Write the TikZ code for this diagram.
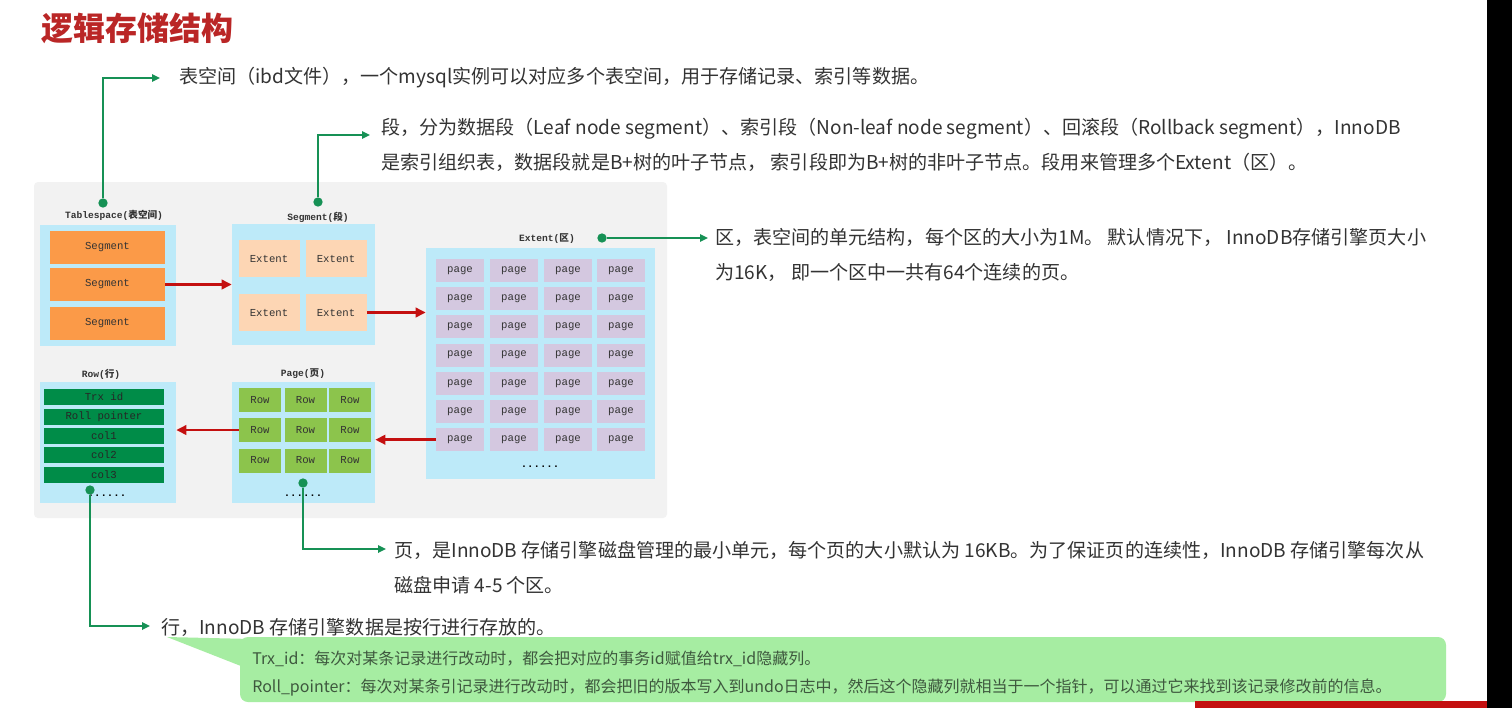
\documentclass[tikz,border=0pt]{standalone}
\usepackage{fontspec}
\setmainfont{Noto Sans CJK SC}
\setmonofont{Liberation Mono}
\usetikzlibrary{arrows.meta}

\definecolor{titlered}{RGB}{186,38,38}
\definecolor{panelgray}{RGB}{242,242,242}
\definecolor{groupblue}{RGB}{189,234,249}
\definecolor{segorange}{RGB}{251,154,72}
\definecolor{extpeach}{RGB}{253,214,180}
\definecolor{pagelilac}{RGB}{212,200,224}
\definecolor{rowgreen}{RGB}{140,196,76}
\definecolor{colgreen}{RGB}{0,140,72}
\definecolor{linkgreen}{RGB}{22,145,85}
\definecolor{flowred}{RGB}{196,16,16}
\definecolor{notegreen}{RGB}{166,237,162}
\definecolor{bodygray}{RGB}{51,51,51}
\definecolor{notetext}{RGB}{62,88,62}

\newcommand\grouptitle[2]{#1(\rmfamily #2\ttfamily)}

\begin{document}
\begin{tikzpicture}[x=0.75pt,y=-0.75pt,
                    group/.style={fill=groupblue,inner sep=0pt,
                                  minimum width=102pt,minimum height=90.75pt},
                    grouplabel/.style={font=\ttfamily\bfseries\fontsize{7.2}{8}\selectfont,
                                       text=bodygray,inner sep=0pt},
                    cell/.style={font=\ttfamily\fontsize{8}{9}\selectfont,
                                 text=bodygray,inner sep=0pt},
                    segbox/.style={cell,fill=segorange,minimum width=86.25pt,minimum height=24.75pt},
                    extbox/.style={cell,fill=extpeach,minimum width=45.75pt,minimum height=27.75pt},
                    pagebox/.style={cell,fill=pagelilac,minimum width=36pt,minimum height=17.25pt},
                    rowbox/.style={cell,fill=rowgreen,minimum width=31.5pt,minimum height=18pt},
                    colbox/.style={cell,text=black!85,fill=colgreen,minimum width=90pt,minimum height=12pt},
                    dots/.style={font=\ttfamily\bfseries\fontsize{8}{9}\selectfont,inner sep=0pt},
                    dot/.style={circle,fill=linkgreen,inner sep=0pt,minimum size=7pt},
                    link/.style={draw=linkgreen,line width=1.5pt,-{Triangle[length=6pt,width=5.5pt]}},
                    flow/.style={draw=flowred,line width=2.2pt,-{Triangle[length=7.5pt,width=7pt]}},
                    note/.style={font=\fontsize{14.3}{26.25}\selectfont,text=bodygray,
                                 align=left,inner sep=0pt,anchor=west}]
  \fill[white] (0,0) rectangle (1512,708);
  \useasboundingbox (0,0) rectangle (1512,708);

  \node[font=\bfseries\fontsize{24}{28}\selectfont,text=titlered,anchor=west,inner sep=0pt]
    (title) at (41,28) {逻辑存储结构};

  \fill[panelgray,rounded corners=3pt] (34,182) rectangle (667,518);

  % tablespace
  \node[group] (tsgrp) at (108,285) {};
  \node[grouplabel] (tslabel) at (114,215) {\grouptitle{Tablespace}{表空间}};
  \node[segbox] (seg1) at (107.5,247.5) {Segment};
  \node[segbox] (seg2) at (107.5,284.5) {Segment};
  \node[segbox] (seg3) at (107.5,323.5) {Segment};

  % segment
  \node[group,minimum width=107.25pt] (seggrp) at (303.5,284.5) {};
  \node[grouplabel] (seglabel) at (318,217) {\grouptitle{Segment}{段}};
  \node[extbox] (ext1) at (269,258.5) {Extent};
  \node[extbox] (ext2) at (336,258.5) {Extent};
  \node[extbox] (ext3) at (269,312.5) {Extent};
  \node[extbox] (ext4) at (336,312.5) {Extent};

  % extent
  \node[group,minimum width=171.75pt,minimum height=173.25pt] (extgrp) at (540.5,363.5) {};
  \node[grouplabel] (extlabel) at (547,239) {\grouptitle{Extent}{区}};
  \foreach \c/\x in {1/460,2/514,3/568,4/621}
    \foreach \r in {1,...,7}
      \node[pagebox] (pg\r\c) at (\x,{270.5+28.2*(\r-1)}) {page};
  \node[dots] (extmore) at (540,467) {......};

  % page
  \node[group,minimum width=107.25pt] (pagegrp) at (303.5,442.5) {};
  \node[grouplabel] (pagelabel) at (303,374) {\grouptitle{Page}{页}};
  \foreach \c/\x in {1/260,2/305.5,3/350}
    \foreach \r/\y in {1/400,2/430,3/460.5}
      \node[rowbox] (rw\r\c) at (\x,\y) {Row};
  \node[dots] (pagemore) at (303,496) {......};

  % row
  \node[group,minimum height=90.75pt] (rowgrp) at (108,442.5) {};
  \node[grouplabel] (rowlabel) at (101,374) {\grouptitle{Row}{行}};
  \node[colbox] (trx) at (104,397) {Trx id};
  \node[colbox] (roll) at (104,416.5) {Roll pointer};
  \node[colbox] (col1) at (104,436) {col1};
  \node[colbox] (col2) at (104,455) {col2};
  \node[colbox] (col3) at (104,475) {col3};
  \node[dots] (rowmore) at (107,496) {......};

  \draw[flow] (seg2.east) -- (seggrp.west);
  \draw[flow] (ext4.east) -- (ext4.east -| extgrp.west);
  \draw[flow] (pg71.west) -- (pg71.west -| pagegrp.east);
  \draw[flow] (rw21.west) -- (rw21.west -| rowgrp.east);

  % notes
  \node[dot] (tsdot) at (103,203) {};
  \node[dot] (segdot) at (318,202) {};
  \node[dot] (extdot) at (602,238) {};
  \node[dot] (pagedot) at (303,483) {};
  \node[dot] (rowdot) at (90,490) {};

  \coordinate (tsend) at (160,78);
  \coordinate (segend) at (370,135);
  \coordinate (extend) at (708,238);
  \coordinate (pageend) at (386,549);
  \coordinate (rowend) at (150,626);

  \node[note] (tsnote) at (179,78)
    {表空间（ibd文件），一个mysql实例可以对应多个表空间，用于存储记录、索引等数据。};
  \node[note] (segnote) at (381,144.5)
    {段，分为数据段（Leaf node segment）、索引段（Non-leaf node segment）、回滚段（Rollback segment），InnoDB\\
     是索引组织表，数据段就是B+树的叶子节点， 索引段即为B+树的非叶子节点。段用来管理多个Extent（区）。};
  \node[note] (extnote) at (715,254.5)
    {区，表空间的单元结构，每个区的大小为1M。 默认情况下， InnoDB存储引擎页大小\\
     为16K， 即一个区中一共有64个连续的页。};
  \node[note] (pagenote) at (394,567.5)
    {页，是InnoDB 存储引擎磁盘管理的最小单元，每个页的大小默认为 16KB。为了保证页的连续性，InnoDB 存储引擎每次从\\
     磁盘申请 4-5 个区。};
  \node[note] (rownote) at (161,627) {行，InnoDB 存储引擎数据是按行进行存放的。};

  \draw[link] (tsdot) |- (tsend);
  \draw[link] (segdot) |- (segend);
  \draw[link] (extdot) -- (extend);
  \draw[link] (pagedot) |- (pageend);
  \draw[link] (rowdot) |- (rowend);

  % callout
  \fill[notegreen] (167,637) -- (252,639) -- (246,668) -- cycle;
  \node[fill=notegreen,rounded corners=6pt,minimum width=904.5pt,minimum height=48.75pt,
        inner sep=0pt] (callout) at (843,669.5) {};
  \node[anchor=west,inner sep=0pt,align=left,text=notetext,
        font=\fontsize{12}{21}\selectfont] (callouttext) at (252,674)
    {Trx\_id：每次对某条记录进行改动时，都会把对应的事务id赋值给trx\_id隐藏列。\\
     Roll\_pointer：每次对某条引记录进行改动时，都会把旧的版本写入到undo日志中，然后这个隐藏列就相当于一个指针，可以通过它来找到该记录修改前的信息。};

  \fill[black] (1487,0) rectangle (1512,708);
  \fill[flowred] (1195,701) rectangle (1487,708);
\end{tikzpicture}
\end{document}
